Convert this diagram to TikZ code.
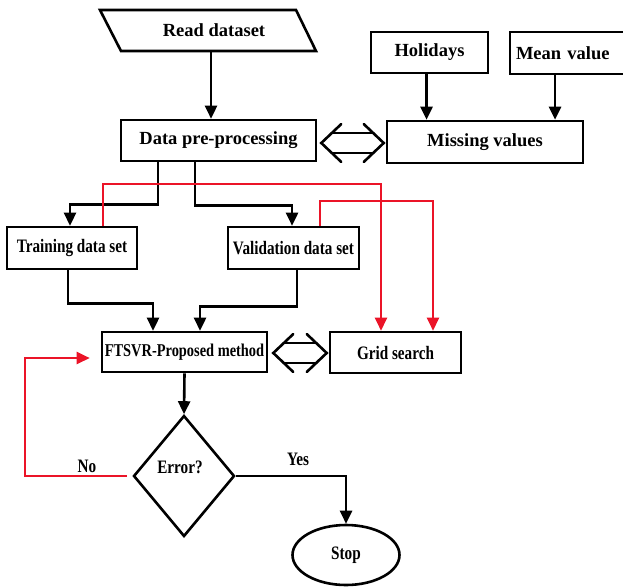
\documentclass[tikz,border=0pt]{standalone}
\usepackage{fontspec}
\setmainfont{Liberation Serif}
\newfontfamily\condfont[FakeStretch=0.8]{Liberation Serif}
\usetikzlibrary{shapes.geometric,arrows.meta,calc}
\definecolor{myred}{RGB}{235,20,40}
\newcommand\dblarr[2]{%
  \draw[dline] ($(#1)+(10.5,-10)$) -- ($(#2)+(-10.5,-10)$);
  \draw[dline] ($(#1)+(10.5,10)$) -- ($(#2)+(-10.5,10)$);
  \draw[dline] ($(#1)+(20,-19)$) -- (#1) -- ($(#1)+(20,19)$);
  \draw[dline] ($(#2)+(-20,-19)$) -- (#2) -- ($(#2)+(-20,19)$);
}
\begin{document}
\begin{tikzpicture}[x=1pt,y=-1pt,
  lw/.style={line width=2.6pt},
  lowfont/.style={font=\condfont\bfseries\fontsize{19}{21}\selectfont},
  box/.style={draw, lw, rectangle, inner sep=0pt, lowfont},
  bigbox/.style={draw, lw, rectangle, inner sep=0pt, font=\bfseries\fontsize{18.5}{21}\selectfont},
  lbl/.style={inner sep=0pt, lowfont},
  conn/.style={lw, -{Triangle[length=13pt,width=12pt]}},
  redconn/.style={conn, draw=myred, line width=2.4pt},
  dline/.style={lw, line join=miter, line cap=round},
]
\useasboundingbox (0,0) rectangle (623,587);

% parallelogram
\draw[lw, line join=miter] (100,10) -- (296,10) -- (316,51) -- (121,51) -- cycle;
\node[bigbox, draw=none, minimum width=180pt, minimum height=41pt] (read) at (214,30.5) {Read dataset};

\node[bigbox, minimum width=195pt, minimum height=41pt] (dp) at (218.5,140.5) {Data pre-processing};
\node[bigbox, minimum width=117pt, minimum height=41pt] (hol) at (429.5,52.5) {Holidays};
\node[bigbox, minimum width=120pt, minimum height=42pt, text width=108pt, align=left] (mean) at (570,53) {Mean value};
\node[bigbox, minimum width=196pt, minimum height=42pt] (mv) at (485,142) {Missing values};
\node[box, minimum width=130pt, minimum height=42pt] (train) at (72,248) {Training data set};
\node[box, minimum width=131pt, minimum height=42pt] (val) at (293.5,248) {Validation data set};
\node[box, minimum width=165pt, minimum height=40pt, font=\condfont\bfseries\fontsize{18}{20}\selectfont] (ftsvr) at (184.5,352) {FTSVR-Proposed method};
\node[box, minimum width=131pt, minimum height=41pt] (grid) at (395.5,352.5) {Grid search};
\node[draw, lw, diamond, inner sep=0pt, minimum width=101pt, minimum height=121pt] (err) at (184,476) {};
\node[lbl] at ($(err.center)+(-4,-9)$) {Error?};
\node[draw, lw, ellipse, inner sep=0pt, minimum width=107pt, minimum height=60pt, lowfont] (stop) at (346,555) {Stop};

% connectors
\coordinate (h1) at ($(hol.south)+(-3,0)$);
\coordinate (m1) at ($(mean.south)+(-15,0)$);
\draw[conn] ($(read.south)+(-3,0)$) -- ($(dp.north)+(-7.5,0)$);
\draw[conn] (h1) -- (h1 |- mv.north);
\draw[conn] (m1) -- (m1 |- mv.north);
\draw[conn] ($(dp.south)+(-60.5,0)$) -- ++(0,42) -| ($(train.north)+(-2,0)$);
\draw[conn] ($(dp.south)+(-23.5,0)$) -- ++(0,43) -| ($(val.north)+(-1.5,0)$);
\draw[conn] ($(train.south)+(-4,0)$) -- ++(0,33) -| ($(ftsvr.north)+(-31.5,0)$);
\draw[conn] ($(val.south)+(3.5,0)$) -- ++(0,36) -| ($(ftsvr.north)+(15.5,0)$);
\draw[redconn] ($(train.north)+(31,0)$) -- ++(0,-42) -| ($(grid.north)+(-14.5,0)$);
\draw[redconn] ($(val.north)+(26.5,0)$) -- ++(0,-25) -| ($(grid.north)+(37.5,0)$);
\draw[conn] (ftsvr.south) -- (err.north);
\draw[conn] (err.east) -| (stop.north);
\draw[redconn] ($(err.west)+(-5,0)$) -- ++(-102,0) |- ($(ftsvr.west)+(-11,6)$);

\node[lbl] at (87,466) {No};
\node[lbl] at (298,459) {Yes};

% double arrows
\coordinate (a1) at ($(dp.east)+(4,2.5)$);
\coordinate (b1) at ($(mv.west)+(-2,1)$);
\dblarr{a1}{b1}
\coordinate (a2) at ($(ftsvr.east)+(5,1)$);
\coordinate (b2) at ($(grid.west)+(-2,0.5)$);
\dblarr{a2}{b2}
\end{tikzpicture}
\end{document}
